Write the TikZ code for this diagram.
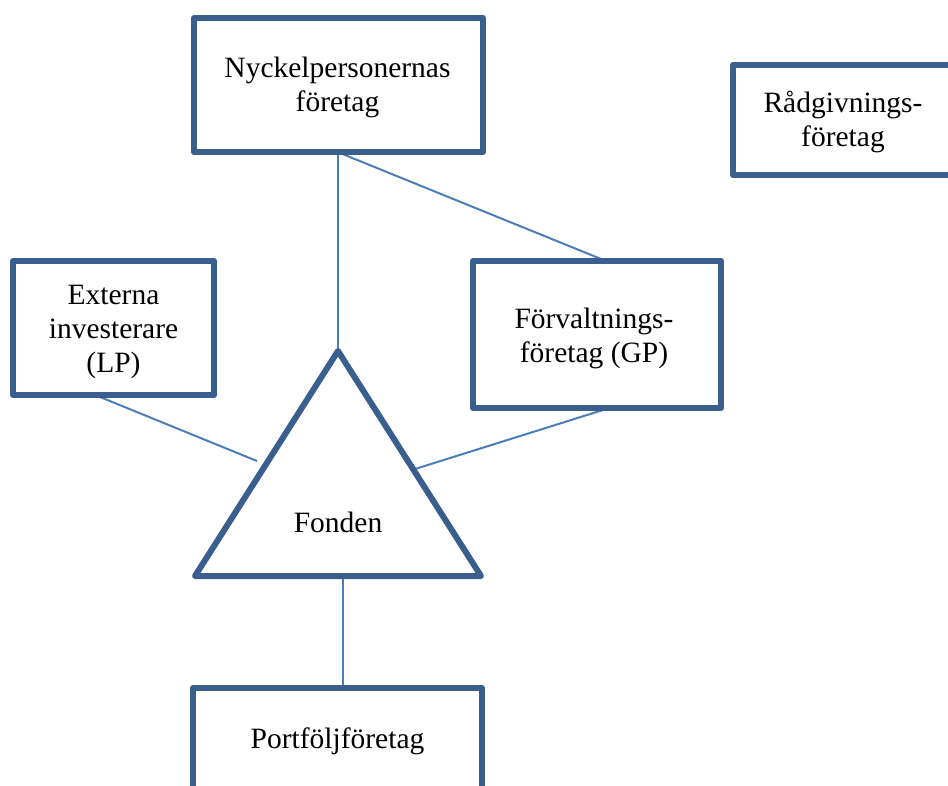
\documentclass[tikz,border=0pt]{standalone}
\usepackage{fontspec}
\setmainfont{Liberation Serif}
\begin{document}
\begin{tikzpicture}[x=1pt,y=-1pt,
  box/.style={draw=boxblue,line width=6pt,line join=round,fill=white,minimum width=#1,inner sep=0pt},
  lbl/.style={align=center,font=\fontsize{29.5}{34}\selectfont,inner sep=0pt},
  conn/.style={draw=lineblue,line width=2pt}]
\definecolor{boxblue}{HTML}{3A5F8E}
\definecolor{lineblue}{HTML}{4A7EBB}
\useasboundingbox (0,0) rectangle (948,785);
% connectors first
\coordinate (apex) at (338,351);
\coordinate (bl) at (195,576);
\coordinate (br) at (481,576);
\coordinate (nyB) at (338,153);
\coordinate (nyB2) at (340,153);
\coordinate (fvT) at (606,261);
\coordinate (exB) at (100,397);
\coordinate (trL) at (257,461);
\coordinate (fvB) at (603,410);
\coordinate (trR) at (415,469);
\coordinate (trB) at (343,577);
\coordinate (pfT) at (343,688);
\draw[conn] (nyB) -- (apex);
\draw[conn] (nyB2) -- (fvT);
\draw[conn] (exB) -- (trL);
\draw[conn] (fvB) -- (trR);
\draw[conn] (trB) -- (pfT);
% boxes
\node[box=289pt,minimum height=134pt] (ny) at (338.5,85) {};
\node[lbl] at (337.5,87) {Nyckelpersonernas\\företag};
\node[box=220pt,minimum height=110pt] (rg) at (843,120) {};
\node[lbl] at (843,122) {Rådgivnings-\\företag};
\node[box=201pt,minimum height=134pt] (ex) at (113.5,328) {};
\node[lbl] at (113.5,332) {Externa\\investerare\\(LP)};
\node[box=248pt,minimum height=147pt] (fv) at (597,334.5) {};
\node[lbl] at (594,338) {Förvaltnings-\\företag (GP)};
\node[box=289pt,minimum height=114pt] (pf) at (337.5,745) {};
\node[lbl] at (337.5,741) {Portföljföretag};
% triangle
\draw[draw=boxblue,line width=6pt,line join=round] (apex) -- (br) -- (bl) -- cycle;
\node[lbl] (fonden) at (338,522) {Fonden};
\end{tikzpicture}
\end{document}
